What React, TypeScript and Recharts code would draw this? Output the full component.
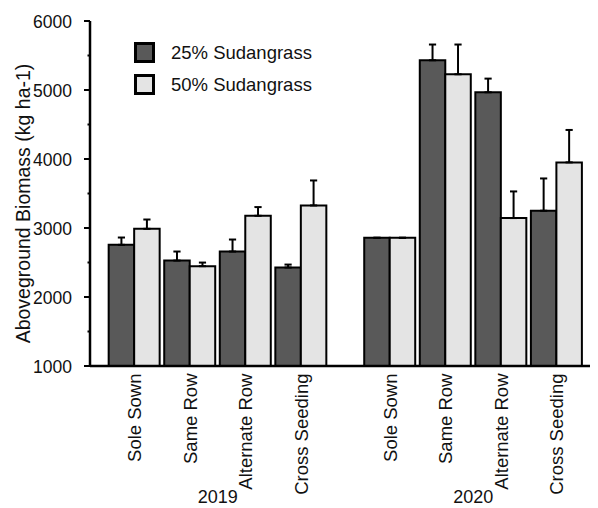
import React from 'react';
import { BarChart, Bar, XAxis, YAxis, ErrorBar, Legend } from 'recharts';

// Growing seasons and planting arrangements
const years = ['2019', '2020'];
const treatments = ['Sole Sown', 'Same Row', 'Alternate Row', 'Cross Seeding'];

// Mean aboveground biomass (kg ha-1), 2019 treatments then 2020 treatments
const sudan25 = [2756, 2528, 2659, 2427, 2858, 5431, 4967, 3250];
const sudan50 = [2988, 2447, 3177, 3327, 2858, 5228, 3144, 3951];

// Standard errors, drawn as upper whiskers
const sudan25Err = [106, 131, 174, 43, 0, 228, 198, 468];
const sudan50Err = [135, 52, 126, 362, 0, 431, 386, 470];

const yTicks = [1000, 1500, 2000, 2500, 3000, 3500, 4000, 4500, 5000, 5500, 6000];

const series = [
  { key: 's25', err: 'e25', name: '25% Sudangrass', fill: '#595959' },
  { key: 's50', err: 'e50', name: '50% Sudangrass', fill: '#e4e4e4' },
];

const FONT = '"Liberation Sans", Arial, Helvetica, sans-serif';

// Slot position on the numeric x axis: one unit per treatment,
// with a wider gap separating the two seasons.
const FIRST = 0.8;
const SEASON_GAP = 0.6;
const X_DOMAIN: [number, number] = [0, 9];
const slot = (yi: number, ti: number) =>
  FIRST + yi * (treatments.length + SEASON_GAP) + ti;

const data = years.flatMap((year, yi) =>
  treatments.map((treatment, ti) => {
    const i = yi * treatments.length + ti;
    return {
      pos: slot(yi, ti),
      year,
      treatment,
      s25: sudan25[i],
      s50: sudan50[i],
      e25: [0, sudan25Err[i]],
      e50: [0, sudan50Err[i]],
    };
  })
);

const xTicks = data.map((d) => d.pos);
const yearCenters = years.map((_, yi) => (slot(yi, 0) + slot(yi, treatments.length - 1)) / 2);

const TreatmentTick = (props: any) => {
  const { x, y, index } = props;
  const label = treatments[index % treatments.length];
  const ty = y + 7.5;
  return (
    <text
      x={x}
      y={ty}
      dy="0.36em"
      transform={`rotate(-90 ${x} ${ty})`}
      textAnchor="end"
      fontFamily={FONT}
      fontSize={18.5}
      fill="#111"
    >
      {label}
    </text>
  );
};

const YearTick = (props: any) => {
  const { x, y, index } = props;
  return (
    <text x={x} y={y} dy={17} textAnchor="middle" fontFamily={FONT} fontSize={18} fill="#111">
      {years[index]}
    </text>
  );
};

const ValueTick = (props: any) => {
  const { x, y, payload } = props;
  const major = payload.value % 1000 === 0;
  return (
    <g>
      <line x1={x - (major ? 6 : 2.5)} x2={x} y1={y} y2={y} stroke="#000" strokeWidth={2} />
      {major && (
        <text x={x - 18} y={y} dy="0.4em" textAnchor="end" fontFamily={FONT} fontSize={17.5} fill="#111">
          {payload.value}
        </text>
      )}
    </g>
  );
};

const AxisTitle = (props: any) => {
  const vb = props.viewBox || { x: 0, y: 21, width: 90, height: 345 };
  const cx = vb.x + 23;
  const cy = vb.y + vb.height / 2 + 10;
  return (
    <text
      x={cx}
      y={cy}
      dy="0.35em"
      transform={`rotate(-90 ${cx} ${cy})`}
      textAnchor="middle"
      fontFamily={FONT}
      fontSize={19.5}
      fill="#111"
    >
      Aboveground Biomass (kg ha-1)
    </text>
  );
};

const LegendBox = () => (
  <div style={{ display: 'flex', flexDirection: 'column', gap: 11 }}>
    {series.map((s) => (
      <div key={s.key} style={{ display: 'flex', alignItems: 'center', height: 21 }}>
        <span
          style={{
            display: 'inline-block',
            width: 15,
            height: 15,
            border: '3px solid #000',
            background: s.fill,
          }}
        />
        <span style={{ marginLeft: 16, fontFamily: FONT, fontSize: 18.5, color: '#111' }}>{s.name}</span>
      </div>
    ))}
  </div>
);

export default function App() {
  return (
    <div style={{ position: 'absolute', left: 0, top: 0, background: '#fff' }}>
      <BarChart
        width={598}
        height={508}
        data={data}
        margin={{ top: 21, right: 8, bottom: 0, left: 0 }}
        barGap={0}
        barSize={25.5}
      >
        <XAxis
          dataKey="pos"
          type="number"
          domain={X_DOMAIN}
          allowDataOverflow
          ticks={xTicks}
          interval={0}
          height={120}
          tickSize={0}
          tickMargin={0}
          tickLine={false}
          axisLine={{ stroke: '#000', strokeWidth: 2.5 }}
          tick={<TreatmentTick />}
        />
        <XAxis
          xAxisId="year"
          dataKey="pos"
          type="number"
          domain={X_DOMAIN}
          allowDataOverflow
          ticks={yearCenters}
          interval={0}
          height={22}
          tickSize={0}
          tickMargin={0}
          tickLine={false}
          axisLine={false}
          tick={<YearTick />}
        />
        <YAxis
          type="number"
          domain={[1000, 6000]}
          ticks={yTicks}
          interval={0}
          width={90}
          tickSize={0}
          tickMargin={0}
          tickLine={false}
          axisLine={{ stroke: '#000', strokeWidth: 2.5 }}
          tick={<ValueTick />}
          label={{ content: <AxisTitle /> }}
        />
        <Legend
          layout="vertical"
          align="center"
          verticalAlign="middle"
          content={<LegendBox />}
          wrapperStyle={{ left: 134, top: 42, width: 'auto', height: 'auto' }}
        />
        {series.map((s) => (
          <Bar
            key={s.key}
            dataKey={s.key}
            name={s.name}
            fill={s.fill}
            stroke="#000"
            strokeWidth={2}
            isAnimationActive={false}
          >
            <ErrorBar dataKey={s.err} direction="y" width={3.6} stroke="#000" strokeWidth={2} />
          </Bar>
        ))}
      </BarChart>
    </div>
  );
}
